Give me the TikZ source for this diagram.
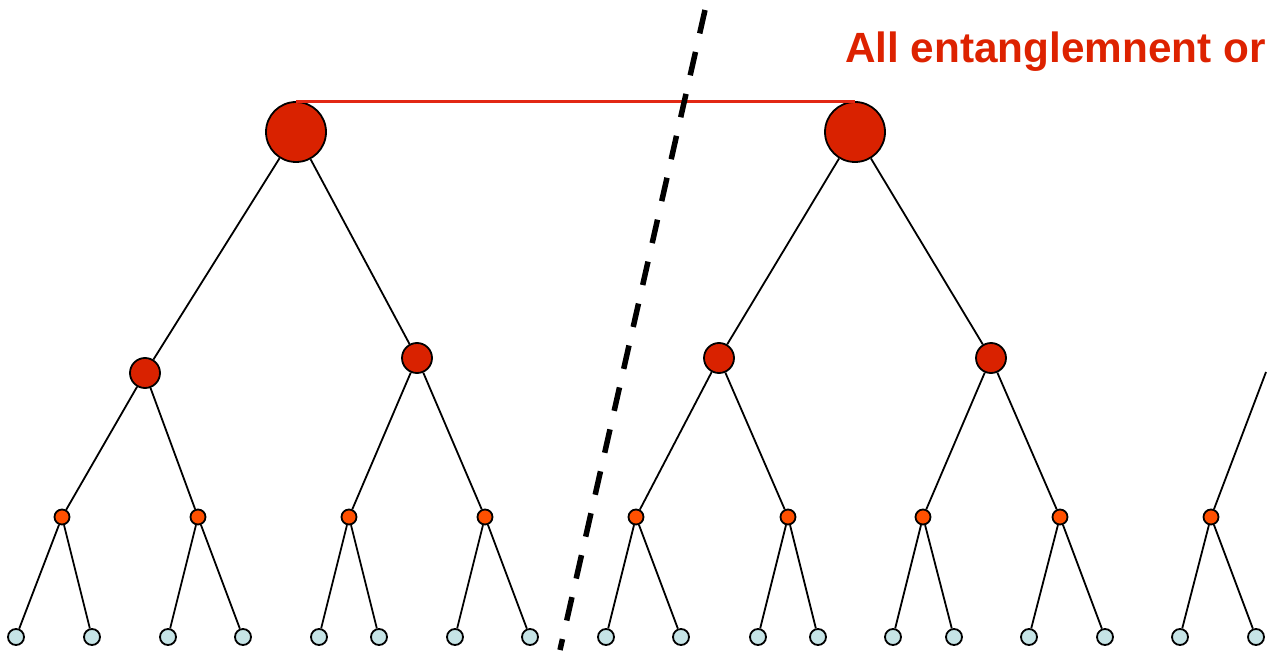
\documentclass[tikz,border=0pt]{standalone}
\usepackage{fontspec}
\setmainfont{Liberation Sans}
\definecolor{rootred}{RGB}{217,34,0}
\definecolor{midorange}{RGB}{255,80,0}
\definecolor{leafblue}{RGB}{198,228,230}
\definecolor{linkred}{RGB}{226,40,20}
\definecolor{textred}{RGB}{221,34,0}
\begin{document}
\begin{tikzpicture}[x=1pt,y=-1pt,
  treenode/.style={circle,draw=black,line width=1.8pt,inner sep=0pt},
  rootnode/.style={treenode,fill=rootred,minimum size=60pt},
  midnode/.style={treenode,fill=rootred,minimum size=30pt},
  subnode/.style={treenode,fill=midorange,minimum size=15pt},
  leafnode/.style={treenode,fill=leafblue,minimum size=16pt},
  edge/.style={line width=1.8pt,black},
  cut/.style={line width=5.5pt,black,dash pattern=on 24pt off 19pt},
  link/.style={line width=3pt,linkred}]
\useasboundingbox (0,0) rectangle (1268,655);

% roots
\node[rootnode] (A) at (296,132) {};
\node[rootnode] (B) at (855,132) {};

% second level
\node[midnode] (A1) at (145,373) {};
\node[midnode] (A2) at (417,358) {};
\node[midnode] (B1) at (719,358) {};
\node[midnode] (B2) at (991,358) {};

% third level
\foreach \n/\x in {a/62,b/198,c/349,d/485,e/636,f/788,g/923,h/1060,i/1211}
  \node[subnode] (s\n) at (\x,517) {};

% leaves
\foreach \n/\x in {a1/16,a2/92,b1/168,b2/243,c1/319,c2/379,d1/455,d2/530,
                   e1/606,e2/681,f1/758,f2/818,g1/893,g2/954,h1/1029,h2/1105,
                   i1/1180,i2/1256}
  \node[leafnode] (l\n) at (\x,637) {};

% tree edges
\draw[edge] (A) -- (A1) (A) -- (A2) (B) -- (B1) (B) -- (B2);
\draw[edge] (A1) -- (sa) (A1) -- (sb) (A2) -- (sc) (A2) -- (sd);
\draw[edge] (B1) -- (se) (B1) -- (sf) (B2) -- (sg) (B2) -- (sh);
\coordinate (up) at (1266,372);
\draw[edge] (si) -- (up);
\foreach \n in {a,b,c,d,e,f,g,h,i}
  \draw[edge] (s\n) -- (l\n1) (s\n) -- (l\n2);

% link between the roots
\draw[link] (A.north) -- (B.north);

% cut line
\coordinate (cuttop) at (705,10);
\coordinate (cutbot) at (560,650);
\draw[cut] (cuttop) -- (cutbot);

% caption
\node[anchor=base west,inner sep=0pt,text=textred,font=\bfseries\fontsize{42.3}{48}\selectfont]
  (caption) at (845,63) {All entanglemnent or};
\end{tikzpicture}
\end{document}
